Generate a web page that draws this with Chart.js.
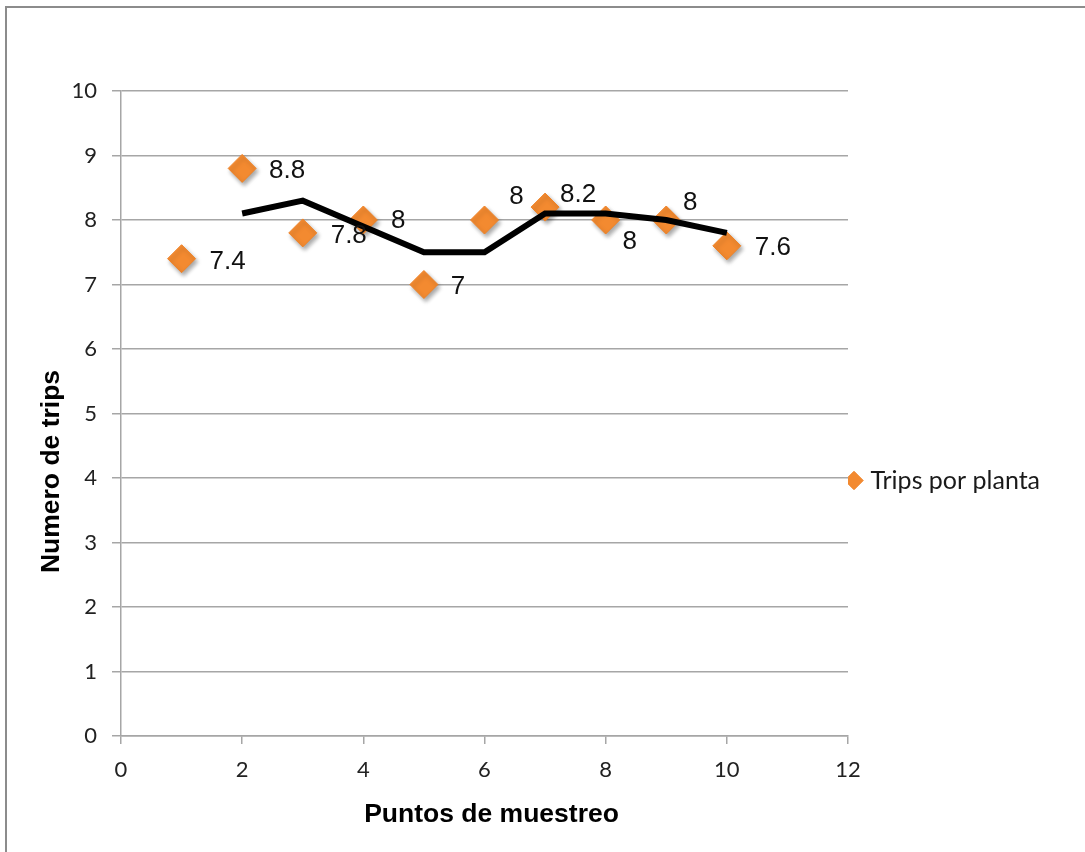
<!DOCTYPE html>
<html>
<head>
<meta charset="utf-8">
<script src="https://cdn.jsdelivr.net/npm/chart.js@4"></script>
<style>
  body { margin: 0; background: #fff; }
  #wrap { position: relative; width: 1085px; height: 852px; overflow: hidden; }
  #frame { position: absolute; left: 5px; top: 6px; right: -20px; bottom: -20px;
           border-left: 2px solid #8c8c8c; border-top: 2px solid #8c8c8c; }
  #chart { position: absolute; left: 0; top: 0; }
</style>
</head>
<body>
<div id="wrap">
  <div id="frame"></div>
  <canvas id="chart" width="1085" height="852"></canvas>
</div>
<script>
// puntos de muestreo y trips por planta
const puntos = [1, 2, 3, 4, 5, 6, 7, 8, 9, 10]
const tripsPorPlanta = [7.4, 8.8, 7.8, 8, 7, 8, 8.2, 8, 8, 7.6]

// linea de tendencia (media movil de 2 periodos)
const tendenciaX = [2, 3, 4, 5, 6, 7, 8, 9, 10]
const tendencia = [8.1, 8.3, 7.9, 7.5, 7.5, 8.1, 8.1, 8.0, 7.8]

const xTicks = [0, 2, 4, 6, 8, 10, 12]
const yTicks = [0, 1, 2, 3, 4, 5, 6, 7, 8, 9, 10]

const serieNombre = 'Trips por planta'
const tituloX = 'Puntos de muestreo'
const tituloY = 'Numero de trips'

// where each data label sits relative to its marker (px)
const labelOffsets = [
  [46, 3], [45, 2], [46, 3], [35, 1], [34, 2],
  [32, -23], [33, -12], [24, 22], [24, -17], [46, 2]
]

const GRID = '#a6a6a6'
const TICK_FONT = { family: 'Lato', size: 22 }
const LEGEND_FONT = { family: 'Lato', size: 25 }
const TITLE_FONT = 'bold 26.5px "Liberation Sans", Arial, sans-serif'

// size the legend so the plot ends at the same place as the original
const measure = document.createElement('canvas').getContext('2d')
measure.font = LEGEND_FONT.size + 'px ' + LEGEND_FONT.family
const legendTextW = measure.measureText(serieNombre).width
const LEG_PAD = 2, LEG_BOX = 8
const legendW = LEG_PAD + LEG_BOX + LEGEND_FONT.size / 2 + legendTextW + 10
const rightPad = Math.max(0, 1085 - 848 - legendW)

const labelsPlugin = {
  id: 'labelsPlugin',
  beforeDatasetDraw(chart, args) {
    if (args.index === 0) {
      const ctx = chart.ctx
      ctx.save()
      ctx.shadowColor = 'rgba(0,0,0,0.35)'
      ctx.shadowBlur = 4
      ctx.shadowOffsetX = 2
      ctx.shadowOffsetY = 3
    }
  },
  afterDatasetDraw(chart, args) {
    if (args.index === 0) chart.ctx.restore()
  },
  afterLayout(chart) {
    // Excel puts the legend a bit lower than the plot's middle
    chart.legend.top += 9
    chart.legend.bottom += 9
  },
  afterDatasetsDraw(chart) {
    const ctx = chart.ctx
    const meta = chart.getDatasetMeta(0)
    ctx.save()
    ctx.font = '26px "Liberation Sans", Arial, sans-serif'
    ctx.fillStyle = '#111'
    ctx.textAlign = 'center'
    ctx.textBaseline = 'middle'
    meta.data.forEach((pt, i) => {
      const off = labelOffsets[i]
      ctx.fillText(String(tripsPorPlanta[i]), pt.x + off[0], pt.y + off[1])
    })
    ctx.restore()
  },
  afterDraw(chart) {
    const ctx = chart.ctx
    const a = chart.chartArea
    ctx.save()
    ctx.font = TITLE_FONT
    ctx.fillStyle = '#000'
    ctx.textAlign = 'center'
    ctx.textBaseline = 'middle'
    // x title, a little right of the plot centre as in the original
    ctx.fillText(tituloX, (a.left + a.right) / 2 + 7, a.bottom + 79)
    ctx.translate(a.left - 69, (a.top + a.bottom) / 2 + 58)
    ctx.rotate(-Math.PI / 2)
    ctx.fillText(tituloY, 0, 0)
    ctx.restore()
  }
}

const ctx = document.getElementById('chart').getContext('2d')

new Chart(ctx, {
  type: 'scatter',
  data: {
    datasets: [{
      label: serieNombre,
      data: puntos.map((x, i) => ({ x: x, y: tripsPorPlanta[i] })),
      pointStyle: 'rectRot',
      pointRadius: 14,
      pointHoverRadius: 14,
      backgroundColor: '#f38a30',
      borderColor: '#ef8226',
      borderWidth: 1,
      order: 1,
      clip: false
    }, {
      label: 'tendencia',
      data: tendenciaX.map((x, i) => ({ x: x, y: tendencia[i] })),
      showLine: true,
      borderColor: '#000',
      borderWidth: 6,
      pointRadius: 0,
      tension: 0,
      order: 0
    }]
  },
  options: {
    responsive: false,
    animation: false,
    devicePixelRatio: 1,
    layout: { padding: { left: 0, top: 91, right: rightPad, bottom: 0 } },
    scales: {
      x: {
        type: 'linear',
        min: 0,
        max: 12,
        afterBuildTicks: (scale) => { scale.ticks = xTicks.map(v => ({ value: v })) },
        afterFit: (scale) => { scale.height = 116 },
        grid: { drawOnChartArea: false, drawTicks: true, tickLength: 8, color: GRID, lineWidth: 1.5 },
        border: { display: true, color: GRID, width: 1.5 },
        ticks: { color: '#222', font: TICK_FONT, padding: 13, maxRotation: 0 }
      },
      y: {
        min: 0,
        max: 10,
        afterBuildTicks: (scale) => { scale.ticks = yTicks.map(v => ({ value: v })) },
        afterFit: (scale) => { scale.width = 121 },
        grid: { color: GRID, lineWidth: 1.5, tickLength: 9 },
        border: { display: true, color: GRID, width: 1.5 },
        ticks: { color: '#222', font: TICK_FONT, padding: 15 }
      }
    },
    plugins: {
      tooltip: { enabled: false },
      legend: {
        position: 'right',
        labels: {
          filter: (item) => item.text === serieNombre,
          usePointStyle: true,
          boxWidth: LEG_BOX,
          boxHeight: 13,
          padding: LEG_PAD,
          color: '#1a1a1a',
          font: LEGEND_FONT
        }
      }
    }
  },
  plugins: [labelsPlugin]
})
</script>
</body>
</html>
